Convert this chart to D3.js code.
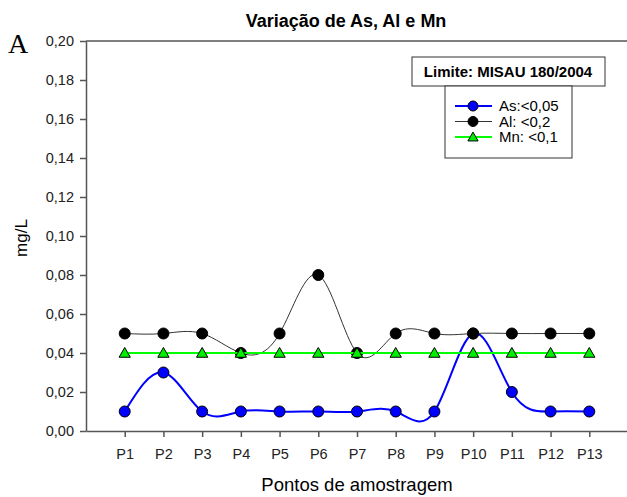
<!DOCTYPE html>
<html><head><meta charset="utf-8">
<script src="https://cdn.jsdelivr.net/npm/d3@7"></script>
<style>body{margin:0;background:#fff}svg{display:block}</style>
</head><body>
<script>
const categories = ["P1","P2","P3","P4","P5","P6","P7","P8","P9","P10","P11","P12","P13"];
const asValues = [0.01,0.03,0.01,0.01,0.01,0.01,0.01,0.01,0.01,0.05,0.02,0.01,0.01];
const alValues = [0.05,0.05,0.05,0.04,0.05,0.08,0.04,0.05,0.05,0.05,0.05,0.05,0.05];
const mnValues = [0.04,0.04,0.04,0.04,0.04,0.04,0.04,0.04,0.04,0.04,0.04,0.04,0.04];
const yTicks = [0,0.02,0.04,0.06,0.08,0.10,0.12,0.14,0.16,0.18,0.20];
const legendLabels = ["As:<0,05","Al: <0,2","Mn: <0,1"];

const W=627,H=497;
const FONT="Liberation Sans, Arial, sans-serif";
const svg=d3.select("body").append("svg").attr("width",W).attr("height",H);
const x=d3.scaleLinear().domain([0,14]).range([86,628]);
const y=d3.scaleLinear().domain([0,0.2]).range([431,41]);
const fmt=d=>d3.format(".2f")(d).replace(".",",");
const axisColor="#555";

// frame top line
svg.append("line").attr("x1",86).attr("x2",627).attr("y1",41).attr("y2",41).attr("stroke",axisColor).attr("stroke-width",1.5);

const yAxis=svg.append("g").attr("transform","translate(86,0)")
  .call(d3.axisLeft(y).tickValues(yTicks).tickFormat(fmt).tickSize(6).tickSizeOuter(0));
const xAxis=svg.append("g").attr("transform","translate(0,431)")
  .call(d3.axisBottom(x).tickValues(d3.range(1,14)).tickFormat(i=>categories[i-1]).tickSize(6).tickSizeOuter(0));
[yAxis,xAxis].forEach(g=>{
  g.select(".domain").attr("stroke",axisColor).attr("stroke-width",1.5);
  g.selectAll(".tick line").attr("stroke",axisColor).attr("stroke-width",1.5);
  g.selectAll("text").attr("font-family",FONT).attr("font-size",14.5).attr("fill","#222");
});
yAxis.selectAll("text").attr("x",-12);
xAxis.selectAll("text").attr("y",17.5);

const idx=d3.range(1,14);
function series(vals,width,lineColor,marker,fill){
  const pts=idx.map((i,k)=>[x(i),y(vals[k])]);
  svg.append("path").attr("d",d3.line().curve(d3.curveNatural)(pts))
    .attr("fill","none").attr("stroke",lineColor).attr("stroke-width",width);
  pts.forEach(p=>{
    if(marker==="circle") svg.append("circle").attr("cx",p[0]).attr("cy",p[1]).attr("r",5.5).attr("fill",fill).attr("stroke","#000").attr("stroke-width",1);
    else svg.append("path").attr("d",d3.symbol(d3.symbolTriangle,55)()).attr("transform",`translate(${p[0]},${p[1]+1})`).attr("fill",fill).attr("stroke","#000").attr("stroke-width",1);
  });
}
series(asValues,2,"#0000ff","circle","#0000ff");
series(alValues,1,"#333","circle","#000");
series(mnValues,2,"#00ff00","triangle","#00ee00");

// title
svg.append("text").attr("x",346).attr("y",27).attr("text-anchor","middle")
  .attr("font-family",FONT).attr("font-weight","bold").attr("font-size",18).text("Variação de As, Al e Mn");
svg.append("text").attr("x",8).attr("y",53).attr("font-family","Liberation Serif, Times New Roman, serif").attr("font-size",28).text("A");
// axis titles
svg.append("text").attr("transform","translate(27,238) rotate(-90)").attr("text-anchor","middle")
  .attr("font-family",FONT).attr("font-size",17).text("mg/L");
svg.append("text").attr("x",357).attr("y",491).attr("text-anchor","middle")
  .attr("font-family",FONT).attr("font-size",18.5).text("Pontos de amostragem");

// legend
svg.append("rect").attr("x",412).attr("y",57).attr("width",193).attr("height",29).attr("fill","#fff").attr("stroke","#333").attr("stroke-width",1);
svg.append("text").attr("x",508).attr("y",77).attr("text-anchor","middle")
  .attr("font-family",FONT).attr("font-weight","bold").attr("font-size",15).text("Limite: MISAU 180/2004");
svg.append("rect").attr("x",445).attr("y",86).attr("width",127).attr("height",72).attr("fill","#fff").attr("stroke","#333").attr("stroke-width",1);
const leg=[{c:"#0000ff",w:2,m:"circle",f:"#0000ff"},{c:"#333",w:1,m:"circle",f:"#000"},{c:"#00ff00",w:2,m:"tri",f:"#00ee00"}];
leg.forEach((l,i)=>{
  const yy=106+i*15.5;
  svg.append("line").attr("x1",455).attr("x2",492).attr("y1",yy).attr("y2",yy).attr("stroke",l.c).attr("stroke-width",l.w);
  if(l.m==="circle") svg.append("circle").attr("cx",473).attr("cy",yy).attr("r",5).attr("fill",l.f).attr("stroke","#000");
  else svg.append("path").attr("d",d3.symbol(d3.symbolTriangle,45)()).attr("transform",`translate(473,${yy+1})`).attr("fill",l.f).attr("stroke","#000");
  svg.append("text").attr("x",499).attr("y",yy+5).attr("font-family",FONT).attr("font-size",15).text(legendLabels[i]);
});
</script>
</body></html>
